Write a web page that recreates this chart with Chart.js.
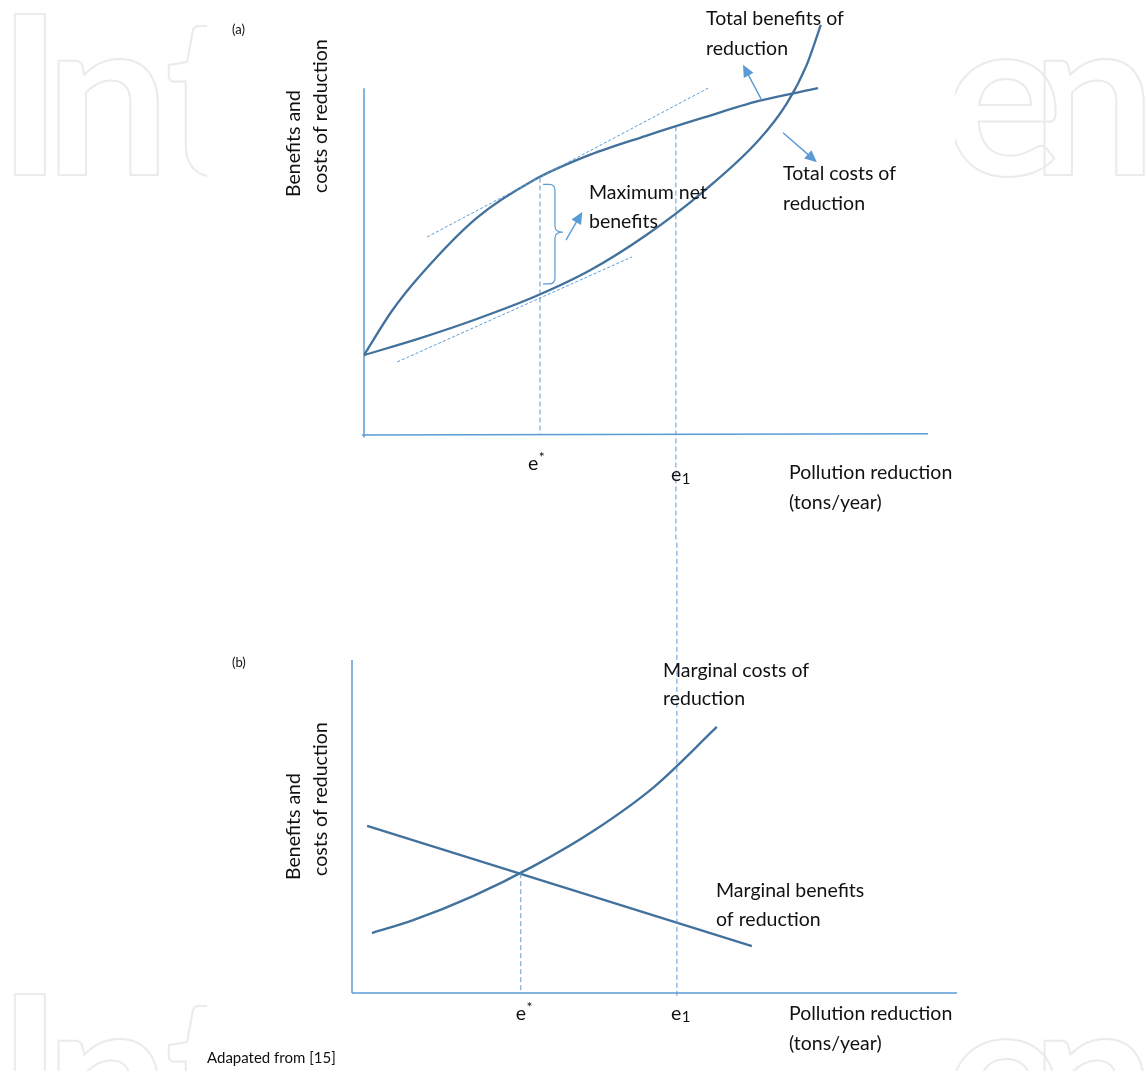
<!DOCTYPE html>
<html>
<head>
<meta charset="utf-8">
<script src="https://cdn.jsdelivr.net/npm/chart.js@4.4.1/dist/chart.umd.min.js"></script>
<style>
  html, body { margin: 0; padding: 0; background: #fff; }
  #wrap { position: relative; width: 1145px; height: 1071px; overflow: hidden; background: #fff; }
  #wrap canvas { position: absolute; left: 0; }
  #panelA { top: 0; }
  #panelB { top: 540px; }
</style>
</head>
<body>
<div id="wrap">
  <canvas id="panelA" width="1145" height="540"></canvas>
  <canvas id="panelB" width="1145" height="531"></canvas>
</div>
<script>
// ---------- Panel (a): total benefits and total costs of reduction ----------
const totalBenefitX = [0, 5, 10, 20, 30, 40, 50, 60, 70, 80.5];
const totalBenefitY = [18.8, 29.3, 37.6, 51.1, 59.9, 65.9, 70.4, 74.6, 78.6, 81.6];
const totalCostX = [0, 10, 20, 30, 40, 50, 60, 70, 75, 78.5, 81];
const totalCostY = [18.8, 22.8, 27.3, 32.4, 38.7, 47.0, 57.1, 69.4, 78.1, 87.1, 96.5];
// tangents at the optimum e*
const benefitTangentX = [11.2, 61.0];
const benefitTangentY = [46.6, 81.6];
const costTangentX = [5.9, 47.5];
const costTangentY = [17.2, 41.9];
// reduction levels e*, e1 and the curve heights reached there
const levelsA = [31.2, 55.3];
const levelTopsA = [60.6, 72.6];
const costAtOptimumA = 33.2;

// ---------- Panel (b): marginal benefits and marginal costs ----------
const marginalBenefitX = [2.5, 66.1];
const marginalBenefitY = [50.2, 14.1];
const marginalCostX = [3.3, 10, 20, 30, 40, 50, 60.3];
const marginalCostY = [18.0, 21.8, 29.1, 38.1, 48.8, 62.0, 79.9];
const levelsB = [27.9, 53.7];
const levelTopsB = [36.0, 140];

// tick labels for the two reduction levels: base letter + mark
const levelLabels = [['e', '*'], ['e', '1']];

const pts = (xs, ys) => xs.map((x, i) => ({ x: x, y: ys[i] }));

const CURVE = '#41719c';
const GUIDE = '#5b9bd5';
const TEXT = '#111111';
const FONT = 'Lato, "Open Sans", sans-serif';

function curveSet(label, data, extra) {
  return Object.assign({
    label: label, data: data, borderColor: CURVE, borderWidth: 2.3,
    pointRadius: 0, fill: false, cubicInterpolationMode: 'monotone'
  }, extra || {});
}
function guideSet(label, data, dash, extra) {
  return Object.assign({
    label: label, data: data, borderColor: GUIDE, borderWidth: 1,
    borderDash: dash, pointRadius: 0, fill: false, tension: 0
  }, extra || {});
}

function text(ctx, s, x, y, size) {
  ctx.font = (size || 19.5) + 'px ' + FONT;
  ctx.fillStyle = TEXT;
  ctx.textAlign = 'left';
  ctx.textBaseline = 'alphabetic';
  ctx.fillText(s, x, y);
}
function vtext(ctx, s, x, y, size) {
  ctx.save();
  ctx.translate(x, y);
  ctx.rotate(-Math.PI / 2);
  text(ctx, s, 0, 0, size);
  ctx.restore();
}
function arrow(ctx, x1, y1, x2, y2) {
  const a = Math.atan2(y2 - y1, x2 - x1);
  const L = 12, W = 5.5;
  ctx.save();
  ctx.strokeStyle = GUIDE; ctx.fillStyle = GUIDE; ctx.lineWidth = 1.4;
  ctx.beginPath();
  ctx.moveTo(x1, y1);
  ctx.lineTo(x2 - Math.cos(a) * L * 0.8, y2 - Math.sin(a) * L * 0.8);
  ctx.stroke();
  ctx.beginPath();
  ctx.moveTo(x2, y2);
  ctx.lineTo(x2 - Math.cos(a) * L + Math.sin(a) * W, y2 - Math.sin(a) * L - Math.cos(a) * W);
  ctx.lineTo(x2 - Math.cos(a) * L - Math.sin(a) * W, y2 - Math.sin(a) * L + Math.cos(a) * W);
  ctx.closePath();
  ctx.fill();
  ctx.restore();
}
function axisLine(ctx, x1, y1, x2, y2) {
  ctx.save();
  ctx.strokeStyle = GUIDE; ctx.lineWidth = 1.5;
  ctx.beginPath(); ctx.moveTo(x1, y1); ctx.lineTo(x2, y2); ctx.stroke();
  ctx.restore();
}
// faint publisher mark in the page margins
function watermark(ctx, baseline) {
  ctx.save();
  ctx.beginPath();
  ctx.rect(0, 0, 207, ctx.canvas.height);
  ctx.rect(955, 0, 190, ctx.canvas.height);
  ctx.clip();
  ctx.font = '700 222px Lato, sans-serif';
  ctx.strokeStyle = '#ebebeb';
  ctx.lineWidth = 2;
  ctx.lineJoin = 'round';
  ctx.textBaseline = 'alphabetic';
  [['I', -3], ['n', 45], ['t', 165], ['e', 944], ['n', 1031]].forEach(([c, x]) => ctx.strokeText(c, x, baseline));
  ctx.restore();
}
function levelLabel(ctx, pair, x, y, markDy, markSize) {
  text(ctx, pair[0], x, y, 19.5);
  const w = ctx.measureText(pair[0]).width;
  text(ctx, pair[1], x + w + 0.5, y + markDy, markSize);
}

const baseOptions = (pad) => ({
  responsive: false,
  animation: false,
  devicePixelRatio: 1,
  events: [],
  layout: { padding: pad },
  scales: {
    x: { type: 'linear', min: 0, max: 100, display: false },
    y: { type: 'linear', min: 0, max: 100, display: false }
  },
  plugins: { legend: { display: false }, tooltip: { enabled: false } }
});

function build() {
  // ---------------- panel (a) ----------------
  const panelAPlugin = {
    id: 'panelA',
    beforeDraw(chart) { watermark(chart.ctx, 175); },
    beforeDatasetsDraw(chart) {
      const ctx = chart.ctx, X = v => chart.scales.x.getPixelForValue(v), Y = v => chart.scales.y.getPixelForValue(v);
      axisLine(ctx, X(0), Y(81.6), X(0), Y(-0.6));
      axisLine(ctx, X(-0.35), Y(0), X(100), Y(0.3));
    },
    afterDatasetsDraw(chart) {
      const ctx = chart.ctx, X = v => chart.scales.x.getPixelForValue(v), Y = v => chart.scales.y.getPixelForValue(v);
      // brace spanning the net benefit at e*
      const bx = X(levelsA[0]) + 3, top = Y(levelTopsA[0]) + 7, bot = Y(costAtOptimumA) - 10;
      const mid = (top + bot) / 2 - 2, r = 6, right = bx + 16;
      ctx.save();
      ctx.strokeStyle = GUIDE; ctx.lineWidth = 1.2;
      ctx.beginPath();
      ctx.moveTo(bx, top);
      ctx.lineTo(right - r - 4, top);
      ctx.quadraticCurveTo(right - 4, top, right - 4, top + r);
      ctx.lineTo(right - 4, mid - r);
      ctx.quadraticCurveTo(right - 4, mid, right + 4, mid);
      ctx.quadraticCurveTo(right - 4, mid, right - 4, mid + r);
      ctx.lineTo(right - 4, bot - r);
      ctx.quadraticCurveTo(right - 4, bot, right - r - 4, bot);
      ctx.lineTo(bx, bot);
      ctx.stroke();
      ctx.restore();
      arrow(ctx, right + 7, mid + 8, X(38.7), Y(52.5));
      // pointers to the curve names
      arrow(ctx, X(70.4), Y(79.1), X(67.2), Y(87.1));
      arrow(ctx, X(74.3), Y(71.1), X(80.3), Y(64.2));

      text(ctx, '(a)', 232, 34, 13);
      vtext(ctx, 'Benefits and', 300, 197);
      vtext(ctx, 'costs of reduction', 327, 193);
      text(ctx, 'Total benefits of', 706, 25);
      text(ctx, 'reduction', 706, 55);
      text(ctx, 'Total costs of', 783, 180);
      text(ctx, 'reduction', 783, 210);
      text(ctx, 'Maximum net', 589, 199);
      text(ctx, 'benefits', 589, 228);
      levelLabel(ctx, levelLabels[0], X(levelsA[0]) - 12, 470, -8, 14);
      levelLabel(ctx, levelLabels[1], X(levelsA[1]) - 5, 481, 3, 15);
      text(ctx, 'Pollution reduction', 789, 479);
      text(ctx, '(tons/year)', 789, 509);
    }
  };

  new Chart(document.getElementById('panelA'), {
    type: 'line',
    data: {
      datasets: [
        guideSet('Tangent to total benefits', pts(benefitTangentX, benefitTangentY), [3, 2]),
        guideSet('Tangent to total costs', pts(costTangentX, costTangentY), [3, 2]),
        guideSet('e*', [{ x: levelsA[0], y: levelTopsA[0] }, { x: levelsA[0], y: -0.5 }], [5, 3]),
        guideSet('e1', [{ x: levelsA[1], y: levelTopsA[1] }, { x: levelsA[1], y: -30 }], [5, 3], { clip: false }),
        curveSet('Total benefits of reduction', pts(totalBenefitX, totalBenefitY)),
        curveSet('Total costs of reduction', pts(totalCostX, totalCostY))
      ]
    },
    options: baseOptions({ left: 364, right: 217, top: 10, bottom: 105 }),
    plugins: [panelAPlugin]
  });

  // ---------------- panel (b) ----------------
  const panelBPlugin = {
    id: 'panelB',
    beforeDraw(chart) {
      watermark(chart.ctx, 615);
    },
    beforeDatasetsDraw(chart) {
      const ctx = chart.ctx, X = v => chart.scales.x.getPixelForValue(v), Y = v => chart.scales.y.getPixelForValue(v);
      axisLine(ctx, X(0), Y(100), X(0), Y(0));
      axisLine(ctx, X(0), Y(0), X(100), Y(0));
    },
    afterDatasetsDraw(chart) {
      const ctx = chart.ctx, X = v => chart.scales.x.getPixelForValue(v);
      text(ctx, '(b)', 232, 127, 13);
      vtext(ctx, 'Benefits and', 300, 340);
      vtext(ctx, 'costs of reduction', 327, 336);
      text(ctx, 'Marginal costs of', 663, 137);
      text(ctx, 'reduction', 663, 165);
      text(ctx, 'Marginal benefits', 716, 357);
      text(ctx, 'of reduction', 716, 386);
      levelLabel(ctx, levelLabels[0], X(levelsB[0]) - 5, 480, -8, 14);
      levelLabel(ctx, levelLabels[1], X(levelsB[1]) - 6, 480, 2, 15);
      text(ctx, 'Pollution reduction', 789, 480);
      text(ctx, '(tons/year)', 789, 510);
      text(ctx, 'Adapated from [15]', 207, 523, 15);
    }
  };

  new Chart(document.getElementById('panelB'), {
    type: 'line',
    data: {
      datasets: [
        guideSet('e*', [{ x: levelsB[0], y: levelTopsB[0] }, { x: levelsB[0], y: 0 }], [5, 3]),
        guideSet('e1', [{ x: levelsB[1], y: levelTopsB[1] }, { x: levelsB[1], y: -1 }], [5, 3], { clip: false }),
        curveSet('Marginal benefits of reduction', pts(marginalBenefitX, marginalBenefitY), { cubicInterpolationMode: 'default', tension: 0 }),
        curveSet('Marginal costs of reduction', pts(marginalCostX, marginalCostY))
      ]
    },
    options: baseOptions({ left: 352, right: 188, top: 120, bottom: 78 }),
    plugins: [panelBPlugin]
  });
}

const fontLoads = document.fonts ? Promise.all([
  document.fonts.load('19.5px Lato'),
  document.fonts.load('700 222px Lato')
]).catch(() => null) : Promise.resolve();
fontLoads.then(build, build);
</script>
</body>
</html>
